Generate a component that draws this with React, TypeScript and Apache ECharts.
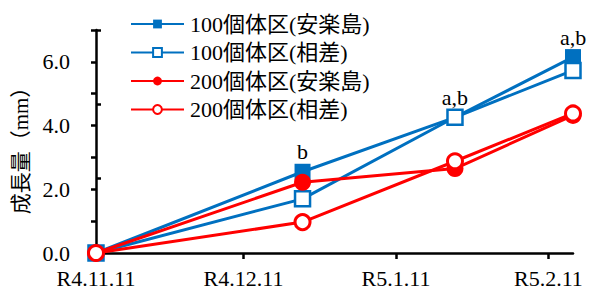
import React, { useEffect, useRef } from "react";
import * as echarts from "echarts";

const dates = ["2022-11-11", "2022-12-23", "2023-01-23", "2023-02-16"];
const seriesNames = ["100個体区(安楽島)", "100個体区(相差)", "200個体区(安楽島)", "200個体区(相差)"];
const blueFilled = [0.0, 2.55, 4.26, 6.15];
const blueOpen = [0.0, 1.7, 4.26, 5.73];
const redFilled = [0.0, 2.22, 2.65, 4.32];
const redOpen = [0.0, 0.97, 2.88, 4.38];
const annotations = ["", "b", "a,b", "a,b"];
const tickDates = ["2022-11-11", "2022-12-11", "2023-01-11", "2023-02-11"];
const tickLabels = ["R4.11.11", "R4.12.11", "R5.1.11", "R5.2.11"];
const axisMin = "2022-11-11";
const axisMax = "2023-02-16";
const yTickLabels = ["0.0", "2.0", "4.0", "6.0"];
const yName = "成長量（mm）";

const BLUE = "#0070C0";
const RED = "#FF0000";
const FONT = "Liberation Serif, Noto Sans CJK JP";

// days elapsed since the axis start date
const day = (d: string) => {
  const [y, m, dd] = d.split("-").map(Number);
  const [y0, m0, d0] = axisMin.split("-").map(Number);
  return Math.round((Date.UTC(y, m - 1, dd) - Date.UTC(y0, m0 - 1, d0)) / 86400000);
};

export default function App() {
  const ref = useRef<HTMLDivElement>(null);
  useEffect(() => {
    if (!ref.current) return;
    const chart = echarts.init(ref.current, null, { renderer: "svg" });
    const toPts = (vals: number[]) => vals.map((v, i) => [day(dates[i]), v]);
    const tickDays = tickDates.map(day);
    chart.setOption({
      animation: false,
      textStyle: { fontFamily: FONT },
      grid: { left: 96, right: 19, top: 30, bottom: 40, containLabel: false },
      legend: {
        orient: "vertical",
        left: 130,
        top: 13,
        padding: 0,
        itemWidth: 53,
        itemHeight: 11,
        itemGap: 6.5,
        data: seriesNames,
        textStyle: { fontFamily: FONT, fontSize: 22, color: "#000", padding: [0, 0, 0, 1] },
      },
      xAxis: {
        type: "value",
        min: day(axisMin),
        max: day(axisMax),
        axisLine: { lineStyle: { color: "#000", width: 2.5 } },
        axisTick: { show: true, length: 6, lineStyle: { color: "#000", width: 2.5 }, customValues: tickDays },
        axisLabel: {
          customValues: tickDays,
          margin: 14,
          fontFamily: FONT,
          fontSize: 22,
          color: "#000",
          formatter: (v: number) => {
            const i = tickDays.indexOf(v);
            return i >= 0 ? tickLabels[i] : "";
          },
        },
        splitLine: { show: false },
      },
      yAxis: [
        {
          type: "value",
          min: 0,
          max: 7,
          interval: 1,
          name: yName,
          nameLocation: "middle",
          nameRotate: 90,
          nameGap: 58,
          nameTextStyle: { fontFamily: FONT, fontSize: 21, color: "#000", padding: [0, 8, 0, 0] },
          axisLine: { show: true, lineStyle: { color: "#000", width: 2.5 } },
          axisTick: { show: true, length: 5, lineStyle: { color: "#000", width: 2.5 } },
          axisLabel: {
            margin: 26,
            fontFamily: FONT,
            fontSize: 22,
            color: "#000",
            formatter: (v: number) => (v % 2 === 0 ? yTickLabels[v / 2] : ""),
          },
          splitLine: { show: false },
        },
        {
          type: "value",
          min: 0,
          max: 6,
          interval: 2,
          position: "left",
          axisLine: { show: false },
          axisTick: { show: true, inside: true, length: 5, lineStyle: { color: "#000", width: 2.5 } },
          axisLabel: { show: false },
          splitLine: { show: false },
        },
      ],
      series: [
        {
          name: seriesNames[0],
          type: "line",
          data: toPts(blueFilled),
          symbol: "rect",
          symbolSize: 16,
          lineStyle: { color: BLUE, width: 3 },
          itemStyle: { color: BLUE, borderColor: BLUE, borderWidth: 0 },
          label: {
            show: true,
            position: "top",
            distance: 1,
            fontFamily: FONT,
            fontSize: 22,
            color: "#000",
            formatter: (p: any) => annotations[p.dataIndex],
          },
          z: 2,
        },
        {
          name: seriesNames[1],
          type: "line",
          data: toPts(blueOpen),
          symbol: "rect",
          symbolSize: 15,
          lineStyle: { color: BLUE, width: 3 },
          itemStyle: { color: "#fff", borderColor: BLUE, borderWidth: 2.5 },
          z: 3,
        },
        {
          name: seriesNames[2],
          type: "line",
          data: toPts(redFilled),
          symbol: "circle",
          symbolSize: 17,
          lineStyle: { color: RED, width: 3 },
          itemStyle: { color: RED, borderColor: RED, borderWidth: 0 },
          z: 4,
        },
        {
          name: seriesNames[3],
          type: "line",
          data: toPts(redOpen),
          symbol: "circle",
          symbolSize: 15,
          lineStyle: { color: RED, width: 3 },
          itemStyle: { color: "#fff", borderColor: RED, borderWidth: 3 },
          z: 5,
        },
      ],
    });
    return () => chart.dispose();
  }, []);
  return <div ref={ref} style={{ width: 592, height: 293, position: "absolute", left: 0, top: 0 }} />;
}
